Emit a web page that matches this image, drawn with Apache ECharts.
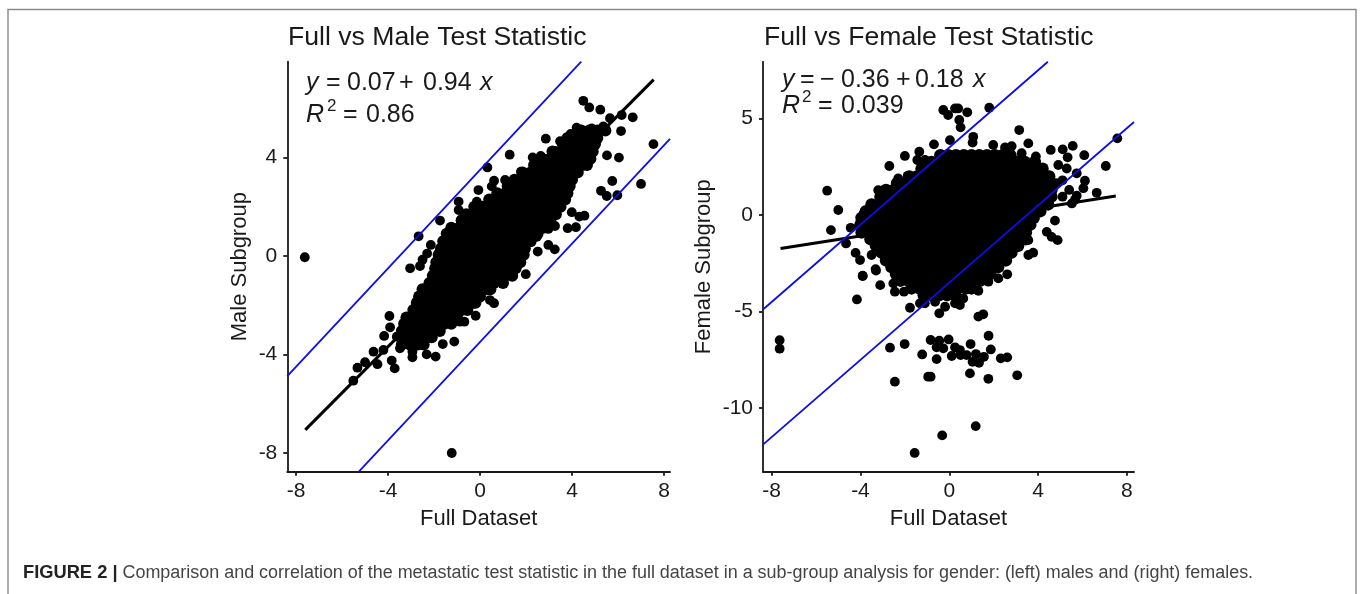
<!DOCTYPE html>
<html>
<head>
<meta charset="utf-8">
<style>html,body{margin:0;padding:0;background:#fff}#c{width:1363px;height:594px}</style>
<script src="https://cdn.jsdelivr.net/npm/echarts@6/dist/echarts.min.js"></script>
</head>
<body>
<div id="c"></div>
<script>
// Dense overplotted region, read as rows: first number is y, the rest are x values
const maleCore = [
[5.1,4.4,4.75,5.1,5.45],
[4.8,3.8,4.15,4.5,4.85,5.1],
[4.55,3.6,3.95,4.3,4.65,5.0],
[4.25,3.15,3.5,3.85,4.2,4.55,4.9],
[3.95,2.7,3.05,3.4,3.75,4.1,4.45,4.8],
[3.7,2.35,2.7,3.05,3.4,3.75,4.1,4.45,4.65],
[3.4,1.85,2.2,2.55,2.9,3.25,3.6,3.95,4.25],
[3.1,1.5,1.85,2.2,2.55,2.9,3.25,3.6,4.0],
[2.85,1.2,1.55,1.9,2.25,2.6,2.95,3.3,3.65,3.9],
[2.55,.75,1.1,1.45,1.8,2.15,2.5,2.85,3.2,3.55,3.8],
[2.3,.4,.75,1.1,1.45,1.8,2.15,2.5,2.85,3.2,3.5,3.7],
[2.0,-.25,.1,.45,.8,1.15,1.5,1.85,2.2,2.55,2.9,3.25,3.5],
[1.7,-.6,-.25,.1,.45,.8,1.15,1.5,1.85,2.2,2.55,2.9,3.3],
[1.45,-.8,-.45,-.1,.25,.6,.95,1.3,1.65,2,2.35,2.7,3.05],
[1.15,-1.25,-.9,-.55,-.2,.15,.5,.85,1.2,1.55,1.9,2.25,2.55,2.75],
[.9,-1.45,-1.1,-.75,-.4,-.05,.3,.65,1,1.35,1.7,2.05,2.3,2.5],
[.6,-1.6,-1.25,-.9,-.55,-.2,.15,.5,.85,1.2,1.55,1.9,2.2],
[.3,-1.7,-1.35,-1,-.65,-.3,.05,.4,.75,1.1,1.45,1.8,1.95],
[.05,-1.8,-1.45,-1.1,-.75,-.4,-.05,.3,.65,1,1.35,1.7,1.9],
[-.25,-1.9,-1.55,-1.2,-.85,-.5,-.15,.2,.55,.9,1.25,1.6,1.75],
[-.5,-1.95,-1.6,-1.25,-.9,-.55,-.2,.15,.5,.85,1.2,1.55],
[-.8,-2.05,-1.7,-1.35,-1,-.65,-.3,.05,.4,.75,1.1,1.4],
[-1.1,-2.2,-1.85,-1.5,-1.15,-.8,-.45,-.1,.25,.6,1.0],
[-1.35,-2.5,-2.15,-1.8,-1.45,-1.1,-.75,-.4,-.05,.3,.45],
[-1.65,-2.65,-2.3,-1.95,-1.6,-1.25,-.9,-.55,-.2,0],
[-1.9,-2.75,-2.4,-2.05,-1.7,-1.35,-1,-.65,-.3,-.2],
[-2.2,-2.9,-2.55,-2.2,-1.85,-1.5,-1.15,-.8,-.55],
[-2.5,-3.2,-2.85,-2.5,-2.15,-1.8,-1.45,-1.0],
[-2.75,-3.3,-2.95,-2.6,-2.25,-1.9,-1.55,-1.25],
[-3.05,-3.4,-3.05,-2.7,-2.35,-2,-1.75],
[-3.3,-3.4,-3.05,-2.7,-2.35,-2.1],
[-3.6,-3.4,-3.05,-2.7,-2.45]
];
const maleOutliers = [
[4.49,6.31],[4.75,6.04],[5.23,5.95],[6.16,5.73],[6.64,5.64],[7.54,4.55],[7.0,2.93],[5.97,2.47],[5.51,2.44],[5.26,2.65],
[5.75,3.05],[6.04,4.0],[5.52,4.09],[6.13,5.08],[5.65,5.6],[5.36,5.27],[4.86,5.19],[4.2,5.22],[3.94,4.96],[3.48,4.67],
[2.86,4.77],[3.26,4.27],[2.64,4.07],[2.29,4.01],[1.29,4.12],[.32,3.6],[1.78,3.43],[1.09,3.09],[.61,3.06],[.51,2.83],
[-.07,2.68],[-.14,2.21],[-.93,2.21],[-.93,1.87],[-1.74,1.44],[-2.67,.8],[-2.14,.45],[-3.04,-.5],[-2.61,-.41],[-7.62,-.05],
[1.99,-.74],[3.25,.27],[2.97,.45],[2.51,.18],[2.47,.78],[2.97,1.1],[3.26,1.22],[3.81,1.13],[4.17,1.17],[3.99,1.78],[4.32,1.6],[4.54,1.64],
[.43,-1.79],[.61,-1.92],[-.19,-2.43],[-.68,-2.67],[-.87,-2.67],[-1.12,-3.48],[-1.62,-3.58],[-1.93,-4.09],[-2.32,-4.0],[-2.94,-4.12],
[-2.94,-3.89],[-3.71,-4.57],[-3.84,-4.25],[-4.46,-4.4],[-4.63,-3.89],[-5.0,-4.32],[-5.33,-4.54],[-5.51,-5.07],[-4.17,-3.25],[-3.91,-2.9],
[-3.94,-2.44],[-1.23,-8.01],[-4.2,-3.82],[-3.48,-3.75],[-3.62,-3.28],[-2.5,-.15],[-2.3,.1]
];
const femaleCore = [
[3.1,-.4,-.05,.3,.65,1,1.35,1.7,2.05,2.4,2.75],
[2.75,-.8,-.45,-.1,.25,.6,.95,1.3,1.65,2,2.35,2.7,3.05,3.4,3.85],
[2.4,-1.25,-.9,-.55,-.2,.15,.5,.85,1.2,1.55,1.9,2.25,2.6,2.95,3.3,3.65,4,4.2],
[2.0,-1.8,-1.45,-1.1,-.75,-.4,-.05,.3,.65,1,1.35,1.7,2.05,2.4,2.75,3.1,3.45,3.8,4.15,4.5],
[1.65,-2.35,-2,-1.65,-1.3,-.95,-.6,-.25,.1,.45,.8,1.15,1.5,1.85,2.2,2.55,2.9,3.25,3.6,3.95,4.3,4.5],
[1.3,-2.85,-2.5,-2.15,-1.8,-1.45,-1.1,-.75,-.4,-.05,.3,.65,1,1.35,1.7,2.05,2.4,2.75,3.1,3.45,3.8,4.15,4.6],
[.95,-3.1,-2.75,-2.4,-2.05,-1.7,-1.35,-1,-.65,-.3,.05,.4,.75,1.1,1.45,1.8,2.15,2.5,2.85,3.2,3.55,3.9,4.25,4.6],
[.55,-3.5,-3.15,-2.8,-2.45,-2.1,-1.75,-1.4,-1.05,-.7,-.35,0,.35,.7,1.05,1.4,1.75,2.1,2.45,2.8,3.15,3.5,3.85,4.2,4.45],
[.2,-3.75,-3.4,-3.05,-2.7,-2.35,-2,-1.65,-1.3,-.95,-.6,-.25,.1,.45,.8,1.15,1.5,1.85,2.2,2.55,2.9,3.25,3.6,3.95,4.1],
[-.15,-3.95,-3.6,-3.25,-2.9,-2.55,-2.2,-1.85,-1.5,-1.15,-.8,-.45,-.1,.25,.6,.95,1.3,1.65,2,2.35,2.7,3.05,3.4,3.8],
[-.5,-4,-3.65,-3.3,-2.95,-2.6,-2.25,-1.9,-1.55,-1.2,-.85,-.5,-.15,.2,.55,.9,1.25,1.6,1.95,2.3,2.65,3,3.35,3.65],
[-.9,-3.95,-3.6,-3.25,-2.9,-2.55,-2.2,-1.85,-1.5,-1.15,-.8,-.45,-.1,.25,.6,.95,1.3,1.65,2,2.35,2.7,3.05,3.45],
[-1.25,-3.55,-3.2,-2.85,-2.5,-2.15,-1.8,-1.45,-1.1,-.75,-.4,-.05,.3,.65,1,1.35,1.7,2.05,2.4,2.75,3.1,3.45],
[-1.6,-3.3,-2.95,-2.6,-2.25,-1.9,-1.55,-1.2,-.85,-.5,-.15,.2,.55,.9,1.25,1.6,1.95,2.3,2.65,3.1],
[-1.95,-3.05,-2.7,-2.35,-2,-1.65,-1.3,-.95,-.6,-.25,.1,.45,.8,1.15,1.5,1.85,2.2,2.55,2.8],
[-2.35,-2.85,-2.5,-2.15,-1.8,-1.45,-1.1,-.75,-.4,-.05,.3,.65,1,1.35,1.7,2.05,2.55],
[-2.7,-2.6,-2.25,-1.9,-1.55,-1.2,-.85,-.5,-.15,.2,.55,.9,1.25,1.6,1.95,2.2],
[-3.05,-2.4,-2.05,-1.7,-1.35,-1,-.65,-.3,.05,.4,.75,1.1,1.45,1.85],
[-3.4,-2.2,-1.85,-1.5,-1.15,-.8,-.45,-.1,.25,.6,.95,1.4],
[-3.8,-1.7,-1.35,-1,-.65,-.3,.05,.4,.75,1.0],
[-4.15,-1.15,-.8,-.45,-.1,.25]
];
const femaleOutliers = [
[-5.5,1.26],[-5.0,.26],[-5.33,-.78],[-4.44,-.66],[-3.87,.05],[-4.65,-1.47],[-4.22,-1.96],[-4.02,-2.33],[-3.9,-3.14],[-3.5,-2.07],
[-3.32,-2.8],[-3.2,1.29],[-3.09,.8],[-2.7,2.54],[-2.3,1.9],[-1.87,2.03],[-2.0,3.06],[-1.35,3.28],[-1.44,2.85],[-1.09,2.85],
[-.69,3.66],[.03,3.88],[1.08,4.05],[1.05,3.75],[1.98,3.63],[-.27,5.44],[-.05,5.18],[.26,5.52],[.4,5.52],[.81,5.32],
[.45,4.92],[.51,4.54],[1.8,5.56],[3.15,4.4],[2.51,3.5],[2.81,3.57],[3.56,3.71],[3.26,3.2],[3.9,3.03],[4.57,3.37],
[5.11,3.4],[5.56,3.58],[5.33,2.99],[6.08,3.1],[7.05,2.54],[7.57,3.97],[6.64,1.15],[4.91,2.59],[5.29,2.41],[5.74,2.16],
[6.11,1.78],[6.04,1.39],[5.66,.79],[5.52,.6],[4.76,-.29],[4.39,-.87],[4.61,-1.13],[4.88,-1.3],[3.56,-1.3],[3.56,-2.07],
[3.78,-1.95],[5.4,1.3],[5.1,1.8],[4.8,1.65],[5.74,1.0],[5.1,.95],
[-3.9,-3.16],[-3.3,-2.88],[-3.11,-3.63],[-4.16,-4.37],[-2.52,-3.54],[-2.45,-3.97],[-2.04,-3.97],[-1.77,-4.8],[-1.32,-4.57],[-1.1,-4.57],
[-.64,-4.49],[-.45,-5.09],[-.19,-4.75],[.26,-4.57],[.48,-4.66],[.63,-4.32],[1.31,-3.92],[1.76,-3.45],[2.21,-3.28],[2.61,-3.07],
[1.31,-5.26],[1.53,-5.14],[1.77,-6.25],[-.84,-6.47],[-.45,-6.51],[-.03,-6.44],[.96,-6.68],[-.57,-6.85],[-.27,-6.9],[.26,-6.85],
[.48,-6.99],[-2.67,-6.87],[-2.01,-6.68],[-1.22,-7.22],[-.57,-7.46],[.11,-7.3],[.51,-7.25],[.78,-7.25],[1.2,-7.2],[1.56,-7.34],
[1.05,-7.6],[1.34,-7.65],[1.87,-6.96],[2.32,-7.42],[2.61,-7.37],[-2.45,-8.63],[-.95,-8.37],[-.84,-8.37],[.93,-8.2],[1.76,-8.48],
[3.06,-8.3],[1.19,-10.93],[-.32,-11.41],[-1.56,-12.32],[-7.64,-6.48],[-7.64,-6.92]
];
const maleFit = [[-7.6,-7.07],[7.55,7.17]];
const femaleFit = [[-7.6,-1.73],[7.5,.99]];
const maleBlueUpper = [[-8.38,-4.88],[4.4,7.9]];
const maleBlueLower = [[-5.27,-8.77],[8.26,4.76]];
const femaleBlueUpper = [[-8.39,-4.89],[4.44,7.94]];
const femaleBlueLower = [[-8.39,-11.89],[8.32,4.82]];
const xTicks = [-8,-4,0,4,8];
const maleYTicks = [-8,-4,0,4];
const femaleYTicks = [-10,-5,0,5];
const titles = ['Full vs Male Test Statistic','Full vs Female Test Statistic'];
const xName = 'Full Dataset';
const yNames = ['Male Subgroup','Female Subgroup'];

const expand = rows => rows.flatMap(r => r.slice(1).map(x => [x, r[0]]));
const FONT = '"Liberation Sans", Arial, sans-serif';
const INK = '#1a1a1a';

function xAxis(gridIndex, min, max) {
  return { type:'value', gridIndex, min, max, name:xName, nameLocation:'middle', nameGap:36,
    nameTextStyle:{fontFamily:FONT,fontSize:22,color:INK},
    splitLine:{show:false},
    axisLine:{onZero:false,lineStyle:{color:INK,width:1.8}},
    axisTick:{customValues:xTicks,length:4,lineStyle:{color:INK,width:1.8}},
    axisLabel:{customValues:xTicks,fontFamily:FONT,fontSize:21,color:INK,margin:9} };
}
function yAxis(gridIndex, min, max, ticks, name, gap) {
  return { type:'value', gridIndex, min, max, name, nameLocation:'middle', nameGap:gap, nameRotate:90,
    nameTextStyle:{fontFamily:FONT,fontSize:22,color:INK,align:'center',verticalAlign:'bottom'},
    splitLine:{show:false},
    axisLine:{onZero:false,lineStyle:{color:INK,width:1.8}},
    axisTick:{customValues:ticks,length:4,lineStyle:{color:INK,width:1.8}},
    axisLabel:{customValues:ticks,fontFamily:FONT,fontSize:21,color:INK,margin:10} };
}
function dots(i, data, size) {
  return { type:'scatter', xAxisIndex:i, yAxisIndex:i, data, symbol:'circle', symbolSize:size,
    itemStyle:{color:'#000',opacity:1}, silent:true, z:2 };
}
function line(i, data, color, width, z) {
  return { type:'line', xAxisIndex:i, yAxisIndex:i, data, showSymbol:false, symbol:'none',
    lineStyle:{color,width,cap:'butt'}, silent:true, z };
}
function tok(text, x, y, size, italic) {
  return { type:'text', x, y, silent:true, z:20, style:{ text, fill:INK, font:(italic?'italic ':'')+size+'px '+FONT } };
}
const eq = [
  tok('y',306,71,25,true),tok('=',326,71,25),tok('0.07',347,71,25),tok('+',399,71,25),tok('0.94',423,71,25),tok('x',480,71,25,true),
  tok('R',306,103,25,true),tok('2',327,98,17),tok('=',343,103,25),tok('0.86',366,103,25),
  tok('y',782,68,25,true),tok('=',800,68,25),tok('\u2212',820,68,25),tok('0.36',841,68,25),tok('+',896,68,25),tok('0.18',915,68,25),tok('x',973,68,25,true),
  tok('R',782,94,25,true),tok('2',802,89,17),tok('=',818,94,25),tok('0.039',841,94,25)
];

const chart = echarts.init(document.getElementById('c'), null, {renderer:'canvas'});
chart.setOption({
  animation:false,
  backgroundColor:'#fff',
  title:[
    {text:titles[0],left:288,top:24,textStyle:{fontFamily:FONT,fontSize:26.6,fontWeight:'normal',color:INK},padding:0},
    {text:titles[1],left:764,top:24,textStyle:{fontFamily:FONT,fontSize:26.6,fontWeight:'normal',color:INK},padding:0}
  ],
  grid:[
    {left:287.3,top:61.7,width:382.7,height:410},
    {left:763,top:61.7,width:371,height:410}
  ],
  xAxis:[xAxis(0,-8.38,8.26),xAxis(1,-8.39,8.32)],
  yAxis:[yAxis(0,-8.77,7.9,maleYTicks,yNames[0],36),yAxis(1,-13.29,7.94,femaleYTicks,yNames[1],48)],
  series:[
    dots(0,expand(maleCore),12),dots(0,maleOutliers,9.8),
    line(0,maleFit,'#000',3,3),line(0,maleBlueUpper,'#0e0ee0',1.8,4),line(0,maleBlueLower,'#0e0ee0',1.8,4),
    dots(1,expand(femaleCore),12.5),dots(1,femaleOutliers,9.8),
    line(1,femaleFit,'#000',3,3),line(1,femaleBlueUpper,'#0e0ee0',1.8,4),line(1,femaleBlueLower,'#0e0ee0',1.8,4)
  ],
  graphic:[
    {type:'polyline',silent:true,shape:{points:[[8,594],[8,9.5],[1356,9.5],[1356,594]]},style:{fill:null,stroke:'#8a8a8a',lineWidth:1.4}},
    ...eq,
    {type:'text',x:23,y:564,silent:true,style:{
      text:'{b|FIGURE 2 |} Comparison and correlation of the metastatic test statistic in the full dataset in a sub-group analysis for gender: (left) males and (right) females.',
      fill:'#444',font:'17.94px '+FONT,
      rich:{b:{font:'bold 18.3px '+FONT,fill:'#222'}}}}
  ]
});
</script>
</body>
</html>
